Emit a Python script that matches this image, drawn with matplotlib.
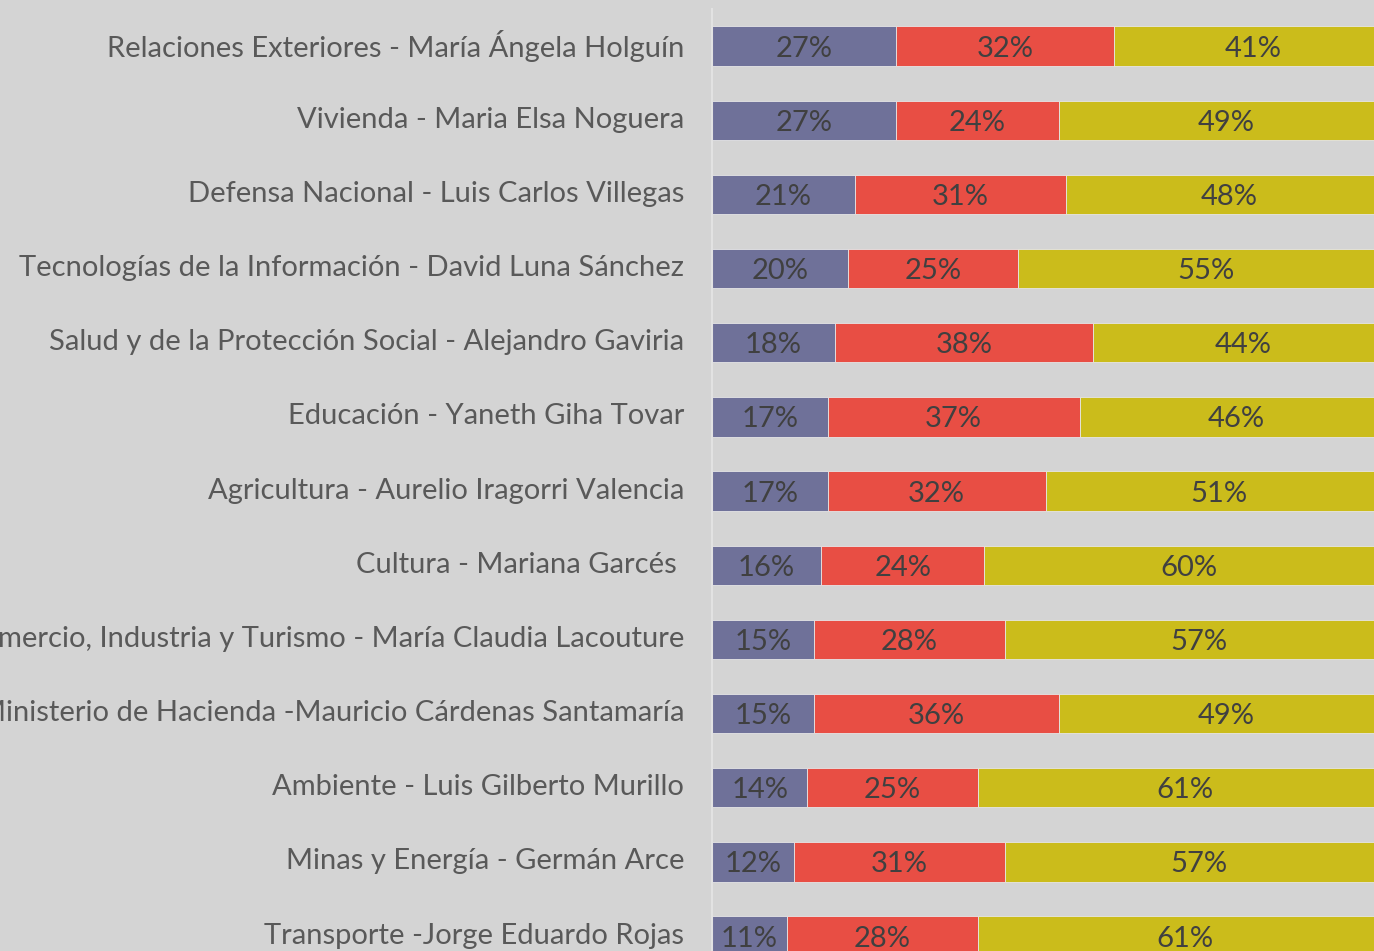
import matplotlib.pyplot as plt
import matplotlib.transforms as mtransforms
import numpy as np

plt.rcParams['font.family'] = ['Lato', 'DejaVu Sans']

ministros = [
    'Relaciones Exteriores - María Ángela Holguín',
    'Vivienda - Maria Elsa Noguera',
    'Defensa Nacional - Luis Carlos Villegas',
    'Tecnologías de la Información - David Luna Sánchez',
    'Salud y de la Protección Social - Alejandro Gaviria',
    'Educación - Yaneth Giha Tovar',
    'Agricultura - Aurelio Iragorri Valencia',
    'Cultura - Mariana Garcés ',
    'Comercio, Industria y Turismo - María Claudia Lacouture',
    'Ministerio de Hacienda -Mauricio Cárdenas Santamaría',
    'Ambiente - Luis Gilberto Murillo',
    'Minas y Energía - Germán Arce',
    'Transporte -Jorge Eduardo Rojas',
]
favorable = [27, 27, 21, 20, 18, 17, 17, 16, 15, 15, 14, 12, 11]
desfavorable = [32, 24, 31, 25, 38, 37, 32, 24, 28, 36, 25, 31, 28]
no_conoce = [41, 49, 48, 55, 44, 46, 51, 60, 57, 49, 61, 57, 61]

colores = ['#6f7199', '#e84e44', '#cbbc1b']
fondo = '#d4d4d4'

W, H = 1374, 951
fig = plt.figure(figsize=(W / 100, H / 100), dpi=100, facecolor=fondo)
# the axes runs a bit past the right and bottom edge, as in the cropped original
left, top = 712, 9
ancho = 681
alto = 13 * 74.17
ax = fig.add_axes([left / W, 1 - (top + alto) / H, ancho / W, alto / H])
ax.set_facecolor(fondo)

y = np.arange(len(ministros))
inicio = np.zeros(len(ministros))
for serie, color in zip([favorable, desfavorable, no_conoce], colores):
    vals = np.array(serie, dtype=float)
    ax.barh(y, vals, left=inicio, height=0.53, color=color,
            edgecolor='#e6e6e6', linewidth=0.6)
    for yi, x0, v in zip(y, inicio, vals):
        ax.text(x0 + v / 2, yi, '{:d}%'.format(int(v)), ha='center',
                va='center_baseline', fontsize=21, color='#404040')
    inicio += vals

ax.set_xlim(0, 100)
ax.set_ylim(len(ministros) - 0.5, -0.5)
ax.set_yticks(y)
ax.set_yticklabels(ministros, fontsize=21, color='#595959')
ax.tick_params(axis='y', length=0, pad=20)
subir = mtransforms.ScaledTranslation(0, 3 / 100, fig.dpi_scale_trans)
for etiqueta in ax.get_yticklabels():
    etiqueta.set_transform(etiqueta.get_transform() + subir)
ax.set_xticks([])
for lado in ['top', 'right', 'bottom']:
    ax.spines[lado].set_visible(False)
ax.spines['left'].set_color('#e2e2e2')
ax.spines['left'].set_linewidth(1.5)

fig.savefig('out.png', dpi=100, facecolor=fondo)
